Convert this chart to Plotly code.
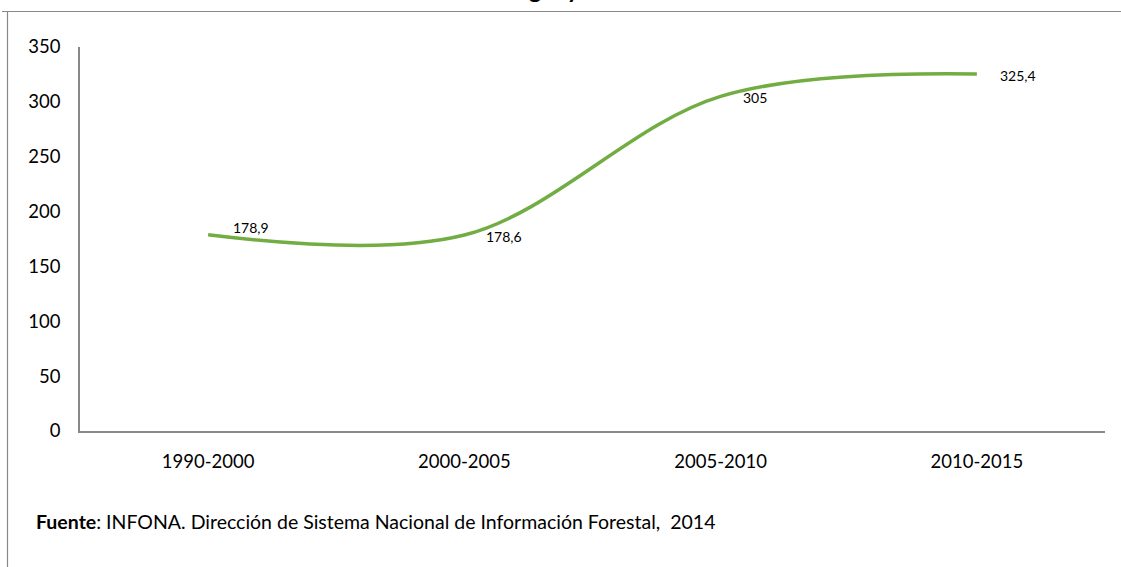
import plotly.graph_objects as go

categories = ["1990-2000", "2000-2005", "2005-2010", "2010-2015"]
values = [178.9, 178.6, 305, 325.4]
label_texts = ["178,9", "178,6", "305", "325,4"]
y_ticks = [0, 50, 100, 150, 200, 250, 300, 350]

FONT = "Lato"
W, H = 1121, 567
L, R, T, B = 80, 16, 47, 136
pw, ph = W - L - R, H - T - B

def px(x):
    return (x - L) / pw

def py(y):
    return (H - B - y) / ph

fig = go.Figure()
fig.add_trace(go.Scatter(
    x=categories, y=values, mode="lines",
    line=dict(color="#72AD44", width=3.5, shape="spline", smoothing=1),
    hoverinfo="skip", showlegend=False,
))

# data labels
offsets = [(23, 7, "left"), (20, -1, "left"), (20, -1, "left"), (21, -2, "left")]
for c, v, t, (dx, dy, anc) in zip(categories, values, label_texts, offsets):
    fig.add_annotation(x=c, y=v, text=t, showarrow=False, xanchor=anc,
                       yanchor="middle", xshift=dx, yshift=dy,
                       font=dict(family=FONT, size=14, color="#000000"))

# title (cut off at top, as in the original)
fig.add_annotation(xref="paper", yref="paper", x=px(530), y=py(5.5),
                   xanchor="center", yanchor="bottom", text="<b>Paraguay</b>",
                   showarrow=False, font=dict(family=FONT, size=24, color="#000"))

# footer
fig.add_annotation(xref="paper", yref="paper", x=px(34), y=py(521),
                   xanchor="left", yanchor="middle",
                   text="<b>Fuente</b>: INFONA. Dirección de Sistema Nacional de Información Forestal,  2014",
                   showarrow=False, font=dict(family=FONT, size=19.5, color="#000"))

# outer frame lines
fig.add_shape(type="line", xref="paper", yref="paper",
              x0=px(2), x1=px(W + 2), y0=py(11.5), y1=py(11.5),
              line=dict(color="#888888", width=1.2))
fig.add_shape(type="line", xref="paper", yref="paper",
              x0=px(7.5), x1=px(7.5), y0=py(11.5), y1=py(H + 2),
              line=dict(color="#888888", width=1.2))

fig.update_layout(
    width=W, height=H,
    margin=dict(l=L, r=R, t=T, b=B),
    paper_bgcolor="white", plot_bgcolor="white",
    font=dict(family=FONT, size=18, color="#000"),
    xaxis=dict(type="category", range=[-0.5, 3.5], showline=True,
               linecolor="#888888", linewidth=1.5, showgrid=False,
               ticks="", ticklabelstandoff=13, tickfont=dict(size=18.5)),
    yaxis=dict(range=[0, 350], tickvals=y_ticks, showline=True,
               linecolor="#888888", linewidth=1.5, showgrid=False,
               zeroline=False, ticks="", ticklabelstandoff=14,
               tickfont=dict(size=18.5)),
)

fig.write_html("out.html", config={"displayModeBar": False},
               post_script="document.body.style.margin='0';document.body.style.overflow='hidden';")
